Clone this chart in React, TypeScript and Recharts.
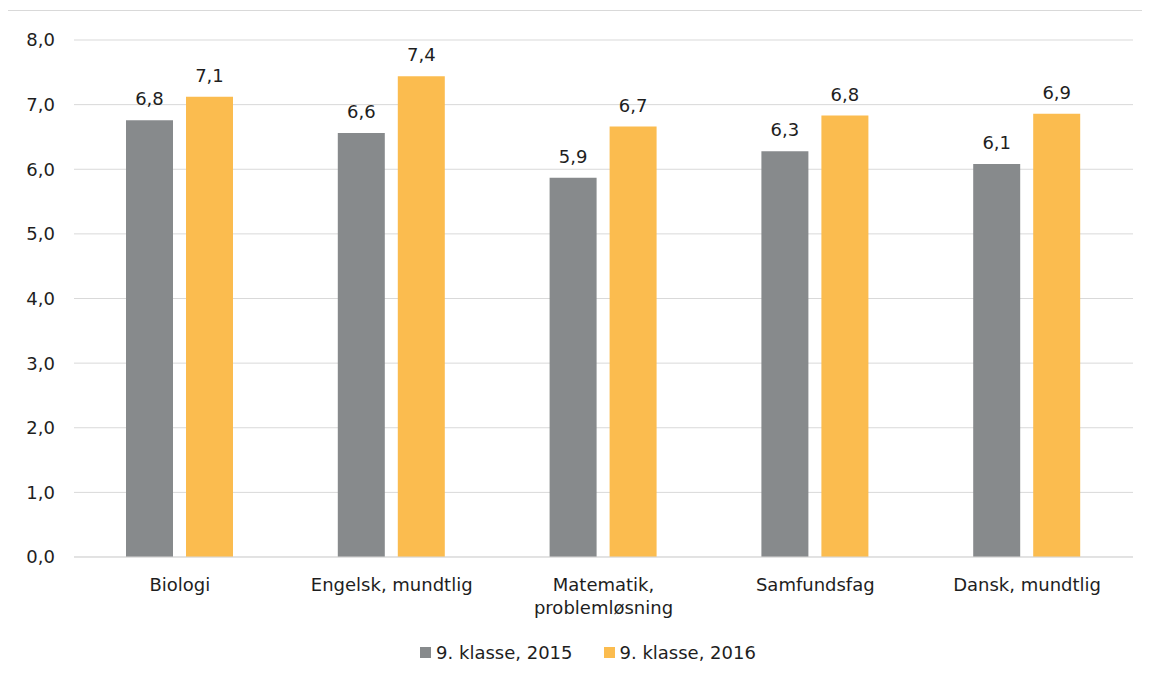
import {
  Bar,
  BarChart,
  CartesianGrid,
  LabelList,
  Legend,
  XAxis,
  YAxis,
} from "recharts";

const subjects = [
  "Biologi",
  "Engelsk, mundtlig",
  "Matematik,\nproblemløsning",
  "Samfundsfag",
  "Dansk, mundtlig",
];
const klasse2015 = [6.76, 6.56, 5.87, 6.28, 6.08];
const klasse2016 = [7.12, 7.44, 6.66, 6.83, 6.86];
const yTicks = [0, 1, 2, 3, 4, 5, 6, 7, 8];
const seriesNames = ["9. klasse, 2015", "9. klasse, 2016"];

const GRAY = "#878a8c";
const ORANGE = "#fbbc4f";
const GRID = "#d9d9d9";
const TEXT = "#1e1e1e";
const FONT = "'DejaVu Sans', Verdana, sans-serif";

const data = subjects.map((subject, i) => ({
  subject,
  v2015: klasse2015[i],
  v2016: klasse2016[i],
}));

const fmt = (v: number) => v.toFixed(1).replace(".", ",");

function SubjectTick({ x, y, payload }: any) {
  const lines = String(payload.value).split("\n");
  return (
    <text x={x} y={y} textAnchor="middle" fill={TEXT} fontSize={18} fontFamily={FONT}>
      {lines.map((line, i) => (
        <tspan key={i} x={x} y={y + 34 + i * 23}>
          {line}
        </tspan>
      ))}
    </text>
  );
}

function LegendBox() {
  const colors = [GRAY, ORANGE];
  return (
    <div
      style={{
        display: "flex",
        justifyContent: "center",
        alignItems: "center",
        height: 24,
        fontFamily: FONT,
        fontSize: 18,
        color: TEXT,
      }}
    >
      {seriesNames.map((name, i) => (
        <div
          key={name}
          style={{ display: "flex", alignItems: "center", marginLeft: i ? 31 : 0 }}
        >
          <span
            style={{
              width: 11,
              height: 11,
              background: colors[i],
              display: "inline-block",
              marginRight: 5,
            }}
          />
          <span>{name}</span>
        </div>
      ))}
    </div>
  );
}

export default function App() {
  return (
    <div
      style={{
        position: "relative",
        left: -1,
        top: 2,
        width: 1142,
        height: 668,
        overflow: "hidden",
        borderTop: `1px solid ${GRID}`,
        borderLeft: `1px solid ${GRID}`,
      }}
    >
      <BarChart
        width={1142}
        height={668}
        data={data}
        margin={{ top: 29, right: 17, bottom: 38, left: 0 }}
        barGap={13}
        barSize={47}
      >
        <CartesianGrid vertical={false} stroke={GRID} />
        <XAxis
          dataKey="subject"
          height={60}
          axisLine={{ stroke: GRID }}
          tickLine={false}
          tickSize={0}
          tickMargin={0}
          interval={0}
          tick={<SubjectTick />}
        />
        <YAxis
          width={66}
          domain={[0, 8]}
          ticks={yTicks}
          axisLine={false}
          tickLine={false}
          tickSize={0}
          tickMargin={19}
          tickFormatter={fmt}
          tick={{ fill: TEXT, fontSize: 18, fontFamily: FONT }}
        />
        <Legend
          verticalAlign="bottom"
          content={<LegendBox />}
          wrapperStyle={{ left: 0, width: 1160, top: 629, height: 24 }}
        />
        <Bar dataKey="v2015" name={seriesNames[0]} fill={GRAY} isAnimationActive={false}>
          <LabelList
            dataKey="v2015"
            position="top"
            offset={15}
            formatter={(v: any) => fmt(Number(v))}
            style={{ fill: TEXT, fontSize: 18, fontFamily: FONT }}
          />
        </Bar>
        <Bar dataKey="v2016" name={seriesNames[1]} fill={ORANGE} isAnimationActive={false}>
          <LabelList
            dataKey="v2016"
            position="top"
            offset={15}
            formatter={(v: any) => fmt(Number(v))}
            style={{ fill: TEXT, fontSize: 18, fontFamily: FONT }}
          />
        </Bar>
      </BarChart>
    </div>
  );
}
